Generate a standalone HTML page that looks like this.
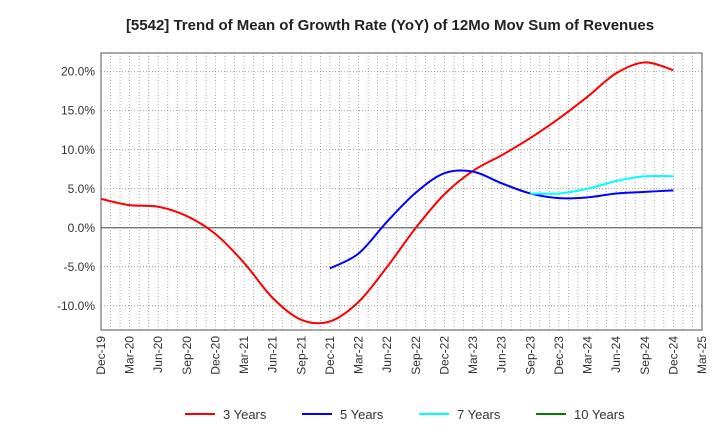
<!DOCTYPE html>
<html><head><meta charset="utf-8"><style>
body{margin:0;background:#fff;font-family:"Liberation Sans",sans-serif}
</style></head><body>
<svg id="c" width="720" height="440" xmlns="http://www.w3.org/2000/svg">
<text x="390" y="30" text-anchor="middle" font-size="15" font-weight="bold" fill="#222">[5542]  Trend of Mean of Growth Rate (YoY) of 12Mo Mov Sum of Revenues</text>
<g id="grid"></g><g id="axes"></g><g id="series"></g><g id="legend"></g>
</svg>
<script>
const xLabels=["Dec-19","Mar-20","Jun-20","Sep-20","Dec-20","Mar-21","Jun-21","Sep-21","Dec-21","Mar-22","Jun-22","Sep-22","Dec-22","Mar-23","Jun-23","Sep-23","Dec-23","Mar-24","Jun-24","Sep-24","Dec-24","Mar-25"];
const yTicks=[-10,-5,0,5,10,15,20];
const red3=[3.7,2.9,2.7,1.5,-0.8,-4.5,-9,-11.8,-12,-9.5,-5,0,4.3,7.3,9.3,11.5,14,16.8,19.8,21.2,20.2];
const blue5=[null,null,null,null,null,null,null,null,-5.2,-3.3,0.8,4.5,7.0,7.2,5.7,4.4,3.8,3.9,4.4,4.6,4.8];
const cyan7=[null,null,null,null,null,null,null,null,null,null,null,null,null,null,null,4.4,4.4,5.0,6.0,6.6,6.6];
const green10=[];
const L=101,R=702,T=53,B=330,yMin=-13.1,yMax=22.4;
const X=i=>L+(R-L)*i/(xLabels.length-1);
const Y=v=>B-(v-yMin)/(yMax-yMin)*(B-T);
const NS="http://www.w3.org/2000/svg";
function mk(tag,attrs,parent){const e=document.createElementNS(NS,tag);for(const k in attrs)e.setAttribute(k,attrs[k]);parent.appendChild(e);return e;}
const grid=document.getElementById('grid'),axes=document.getElementById('axes'),ser=document.getElementById('series'),leg=document.getElementById('legend');
for(let m=0;m<=(xLabels.length-1)*3;m++){const x=L+(R-L)*m/((xLabels.length-1)*3);
const g=mk('line',{x1:x,x2:x,y1:T,y2:B,stroke:'#999','stroke-width':0.8,'stroke-dasharray':'1,2'},grid);

}
yTicks.forEach(v=>{const y=Y(v);
const g=mk('line',{x1:L,x2:R,y1:y,y2:y,stroke:v===0?'#666':'#888','stroke-width':v===0?1.2:0.8,'stroke-dasharray':v===0?'':'1,2'},grid);


const t=mk('text',{x:L-6,y:y+4,'text-anchor':'end','font-size':12,fill:'#333'},axes);t.textContent=v.toFixed(1)+'%';

});
const fr=mk('rect',{x:L,y:T,width:R-L,height:B-T,fill:'none',stroke:'#555','stroke-width':1},axes);


xLabels.forEach((s,i)=>{const x=X(i);const t=mk('text',{x:x+4,y:B+6,'text-anchor':'end','font-size':12,fill:'#333',transform:`rotate(-90 ${x+4} ${B+6})`},axes);t.textContent=s;

});
function path(arr){const p=[];arr.forEach((v,i)=>{if(v!=null)p.push([X(i),Y(v)]);});if(p.length<2)return '';
let d=`M${p[0][0]},${p[0][1]}`;for(let i=0;i<p.length-1;i++){const p0=p[Math.max(0,i-1)],p1=p[i],p2=p[i+1],p3=p[Math.min(p.length-1,i+2)];
d+=` C${p1[0]+(p2[0]-p0[0])/6},${p1[1]+(p2[1]-p0[1])/6} ${p2[0]-(p3[0]-p1[0])/6},${p2[1]-(p3[1]-p1[1])/6} ${p2[0]},${p2[1]}`;}return d;}
[[red3,'#ff0000','line-3-years'],[blue5,'#0000ff','line-5-years'],[cyan7,'#00ffff','line-7-years'],[green10,'#008000','line-10-years']].forEach(([a,c,n])=>{const d=path(a);if(!d)return;
const e=mk('path',{d:d,fill:'none',stroke:c,'stroke-width':2},ser);

});
[['3 Years','#ff0000',185],['5 Years','#0000ff',302],['7 Years','#00ffff',419],['10 Years','#008000',536]].forEach(([s,c,x])=>{
const g=mk('g',{},leg);


mk('line',{x1:x,x2:x+30,y1:414,y2:414,stroke:c,'stroke-width':2},g);
const t=mk('text',{x:x+38,y:419,'font-size':13,fill:'#333'},g);t.textContent=s;});
</script>
</body></html>
